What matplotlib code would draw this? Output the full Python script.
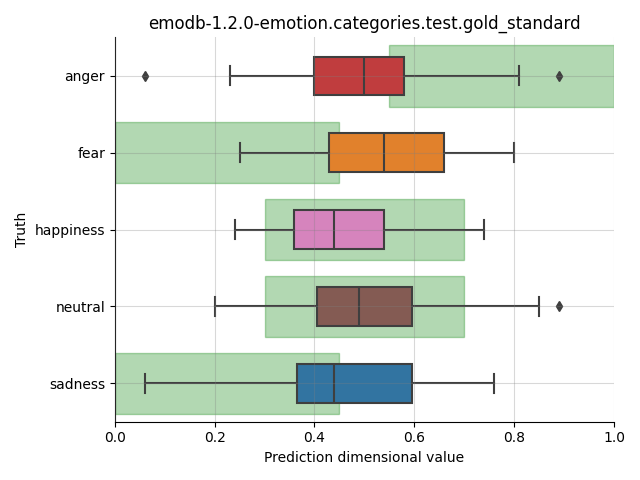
import matplotlib.pyplot as plt
from matplotlib.patches import Rectangle

categories = ['anger', 'fear', 'happiness', 'neutral', 'sadness']
whislo = [0.23, 0.25, 0.24, 0.20, 0.06]
q1 = [0.40, 0.43, 0.36, 0.405, 0.365]
med = [0.50, 0.54, 0.44, 0.49, 0.44]
q3 = [0.58, 0.66, 0.54, 0.595, 0.595]
whishi = [0.81, 0.80, 0.74, 0.85, 0.76]
fliers = [[0.06, 0.89], [], [], [0.89], []]
# expected ranges (green bands)
range_lo = [0.55, 0.0, 0.3, 0.3, 0.0]
range_hi = [1.0, 0.45, 0.7, 0.7, 0.45]
colors = ['#c03d3e', '#e1812c', '#d684bd', '#845b53', '#3274a1']

fig, ax = plt.subplots(figsize=(6.4, 4.8), dpi=100)

for i in range(len(categories)):
    ax.add_patch(Rectangle((range_lo[i], i - 0.4), range_hi[i] - range_lo[i], 0.8,
                           facecolor='green', edgecolor='green', alpha=0.3, zorder=1))

stats = []
for i, c in enumerate(categories):
    stats.append(dict(label=c, whislo=whislo[i], q1=q1[i], med=med[i],
                      q3=q3[i], whishi=whishi[i], fliers=fliers[i]))

line_c = '#3f3f3f'
bp = ax.bxp(stats, positions=range(len(categories)), widths=0.5, vert=False,
            patch_artist=True, manage_ticks=False,
            boxprops=dict(edgecolor=line_c, linewidth=1.5),
            medianprops=dict(color=line_c, linewidth=1.5),
            whiskerprops=dict(color=line_c, linewidth=1.5),
            capprops=dict(color=line_c, linewidth=1.5),
            flierprops=dict(marker='d', markerfacecolor=line_c, markeredgecolor=line_c,
                            markersize=5))
for patch, col in zip(bp['boxes'], colors):
    patch.set_facecolor(col)

ax.set_yticks(range(len(categories)))
ax.set_yticklabels(categories)
ax.set_ylim(4.5, -0.5)
ax.set_xlim(0, 1)
ax.set_axisbelow(False)
ax.grid(True, color='grey', linewidth=0.8, alpha=0.3, zorder=5)
ax.spines['top'].set_visible(False)
ax.spines['right'].set_visible(False)
ax.set_xlabel('Prediction dimensional value')
ax.set_ylabel('Truth')
ax.set_title('emodb-1.2.0-emotion.categories.test.gold_standard')
plt.tight_layout()
plt.savefig('out.png')
